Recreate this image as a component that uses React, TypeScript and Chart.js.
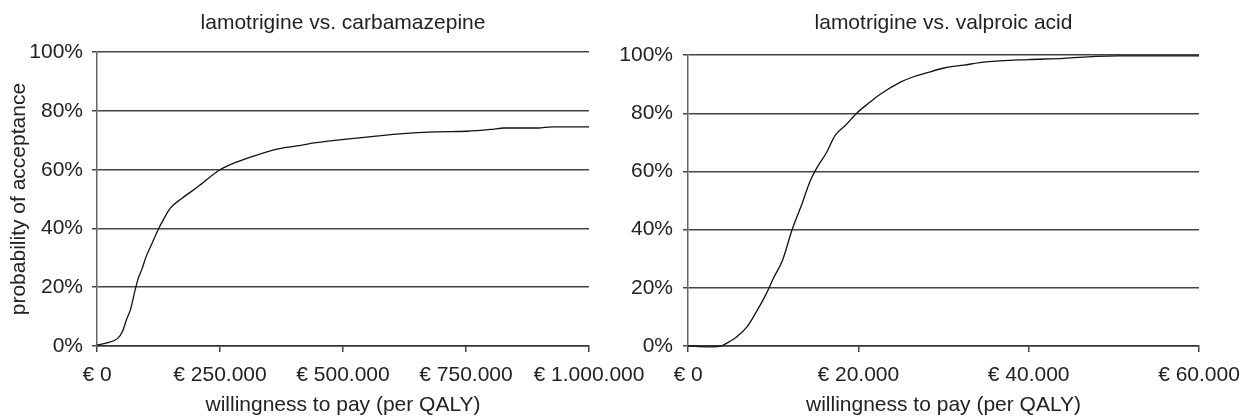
import React, { useEffect, useRef } from "react";
import { Chart, registerables } from "chart.js";

Chart.register(...registerables);

// ---- Data: lamotrigine vs. carbamazepine ----
const wtpCarbamazepine = [
  0, 20000, 42000, 52000, 60000, 68000, 76000, 83000, 91000, 100000, 112000, 124000,
  133000, 149000, 173000, 205000, 249000, 285000, 325000, 366000, 406000, 446000,
  502000, 567000, 615000, 687000, 752000, 800000, 828000, 896000, 925000, 1000000,
];
const probCarbamazepine = [
  0.3, 1.1, 2.6, 5, 9, 12.4, 18, 22.6, 26, 30.5, 35, 39.5,
  42.4, 46.9, 50.3, 54.2, 59.9, 62.7, 65, 67, 68.1, 69.2,
  70.3, 71.4, 72.2, 72.9, 73.1, 73.7, 74.2, 74.2, 74.6, 74.6,
];

// ---- Data: lamotrigine vs. valproic acid ----
const wtpValproic = [
  0, 1300, 3000, 3900, 4800, 5700, 6900, 7800, 9200, 10100, 11100, 12200, 13400,
  14300, 15200, 16200, 17300, 18500, 19900, 21300, 22400, 25000, 26400, 28000,
  30100, 32400, 35000, 39900, 44100, 47800, 50600, 60000,
];
const probValproic = [
  0, -0.2, -0.3, 0, 1.4, 3.1, 6.5, 10.6, 18, 23.7, 29.5, 39.8, 49,
  56.4, 61.6, 66.2, 72.5, 75.9, 80.3, 83.7, 86.2, 90.8, 92.5, 93.9,
  95.6, 96.6, 97.7, 98.5, 98.9, 99.6, 99.8, 99.8,
];

// ---- Tick labels ----
const xTicksCarbamazepine = [0, 250000, 500000, 750000, 1000000];
const xLabelsCarbamazepine = ["€ 0", "€ 250.000", "€ 500.000", "€ 750.000", "€ 1.000.000"];
const xTicksValproic = [0, 20000, 40000, 60000];
const xLabelsValproic = ["€ 0", "€ 20.000", "€ 40.000", "€ 60.000"];
const yTicks = [0, 20, 40, 60, 80, 100];
const yLabels = ["0%", "20%", "40%", "60%", "80%", "100%"];

const titleCarbamazepine = "lamotrigine vs. carbamazepine";
const titleValproic = "lamotrigine vs. valproic acid";
const xAxisTitle = "willingness to pay (per QALY)";
const yAxisTitle = "probability of acceptance";

const FONT = "'Liberation Sans', Arial, Helvetica, sans-serif";
const TEXT = "#222";
const GRID = "#444";

type Cfg = {
  wtp: number[];
  prob: number[];
  xTicks: number[];
  xLabels: string[];
  title: string;
  yTitle: boolean;
  yWidth: number;
  padRight: number;
  titleBottom: number;
  yTickPad: number;
};

function makeChart(canvas: HTMLCanvasElement, c: Cfg) {
  const font = { family: FONT, size: 21 };
  return new Chart(canvas, {
    type: "line",
    data: {
      datasets: [
        {
          data: c.wtp.map((x, i) => ({ x, y: c.prob[i] })),
          borderColor: "#111",
          borderWidth: 1.3,
          pointRadius: 0,
          cubicInterpolationMode: "monotone",
          fill: false,
          clip: false as any,
        },
      ],
    },
    options: {
      responsive: false,
      animation: false,
      layout: { padding: { left: 0, right: c.padRight, top: 0, bottom: 0 } },
      plugins: {
        legend: { display: false },
        tooltip: { enabled: false },
        title: {
          display: true,
          text: c.title,
          color: TEXT,
          font: { family: FONT, size: 21, weight: "normal" },
          padding: { top: 11, bottom: c.titleBottom },
          fullSize: false,
        },
      },
      scales: {
        x: {
          type: "linear",
          min: c.xTicks[0],
          max: c.xTicks[c.xTicks.length - 1],
          afterBuildTicks: (s: any) => {
            s.ticks = c.xTicks.map((v) => ({ value: v }));
          },
          afterFit: (s: any) => {
            s.height = 70;
          },
          ticks: {
            autoSkip: false,
            maxRotation: 0,
            padding: 11,
            color: TEXT,
            font,
            callback: (v: any) => {
              const i = c.xTicks.indexOf(Number(v));
              return i >= 0 ? c.xLabels[i] : "";
            },
          },
          grid: {
            drawOnChartArea: false,
            drawTicks: true,
            tickLength: 6,
            color: GRID,
            lineWidth: 1.5,
          },
          border: { display: true, color: "#333", width: 1.5 },
          title: {
            display: true,
            text: xAxisTitle,
            color: TEXT,
            font: { family: FONT, size: 21, lineHeight: 1 },
            padding: { top: 0, bottom: 0 },
          },
        },
        y: {
          type: "linear",
          min: 0,
          max: 100,
          afterBuildTicks: (s: any) => {
            s.ticks = yTicks.map((v) => ({ value: v }));
          },
          afterFit: (s: any) => {
            s.width = c.yWidth;
          },
          ticks: {
            padding: c.yTickPad,
            color: TEXT,
            font,
            callback: (v: any) => {
              const i = yTicks.indexOf(Number(v));
              return i >= 0 ? yLabels[i] : "";
            },
          },
          grid: {
            drawOnChartArea: true,
            drawTicks: true,
            tickLength: 5,
            color: GRID,
            lineWidth: 1.5,
          },
          border: { display: true, color: "#666", width: 1.5 },
          title: {
            display: c.yTitle,
            text: yAxisTitle,
            color: TEXT,
            font,
            padding: { top: 7, bottom: 0 },
          },
        },
      },
    } as any,
  });
}

function ChartCanvas(props: { cfg: Cfg; left: number; width: number }) {
  const ref = useRef<HTMLCanvasElement | null>(null);
  useEffect(() => {
    if (!ref.current) return;
    const ch = makeChart(ref.current, props.cfg);
    return () => ch.destroy();
  }, []);
  return (
    <canvas
      ref={ref}
      width={props.width}
      height={416}
      style={{ position: "absolute", left: props.left, top: 0, width: props.width, height: 416 }}
    />
  );
}

export default function App() {
  // left plot area: x 97..589 ; right plot area: x 688..1199
  const leftCfg: Cfg = {
    wtp: wtpCarbamazepine,
    prob: probCarbamazepine,
    xTicks: xTicksCarbamazepine,
    xLabels: xLabelsCarbamazepine,
    title: titleCarbamazepine,
    yTitle: true,
    yWidth: 97,
    padRight: 700 - 589,
    titleBottom: 16,
    yTickPad: 9,
  };
  const rightCfg: Cfg = {
    wtp: wtpValproic,
    prob: probValproic,
    xTicks: xTicksValproic,
    xLabels: xLabelsValproic,
    title: titleValproic,
    yTitle: false,
    yWidth: 88,
    padRight: 700 - (1199 - 600),
    titleBottom: 19,
    yTickPad: 10,
  };
  return (
    <div
      style={{
        position: "absolute",
        left: 0,
        top: 0,
        width: 1241,
        height: 416,
        overflow: "hidden",
        background: "#fff",
      }}
    >
      <ChartCanvas cfg={leftCfg} left={0} width={700} />
      <ChartCanvas cfg={rightCfg} left={600} width={700} />
    </div>
  );
}
